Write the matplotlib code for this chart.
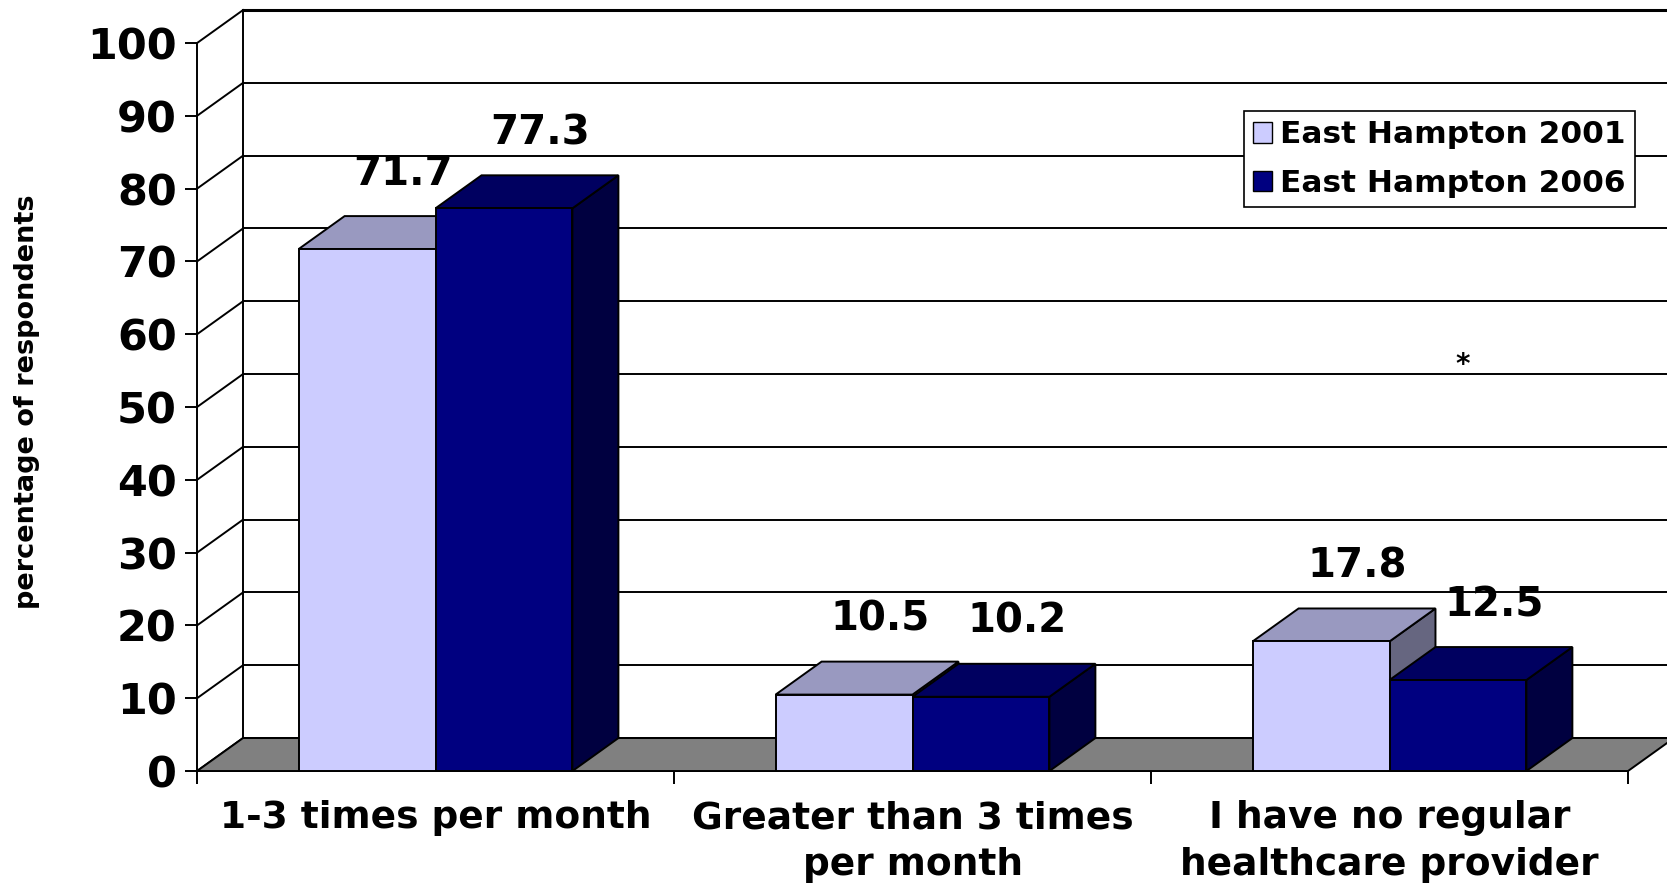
import matplotlib.pyplot as plt
from matplotlib.patches import Polygon, Rectangle, Patch

# survey answers, per category and year
categories = ["1-3 times per month", "Greater than 3 times\nper month",
              "I have no regular\nhealthcare provider"]
series_names = ["East Hampton 2001", "East Hampton 2006"]
values_2001 = [71.7, 10.5, 17.8]
values_2006 = [77.3, 10.2, 12.5]
y_ticks = list(range(0, 101, 10))

# face colours: front, top, side
colors = [
    ("#CCCCFF", "#9999C0", "#666680"),
    ("#000080", "#000060", "#000040"),
]

DEPTH_X = 0.0964      # depth offset along the category axis
DEPTH_Y = 4.53        # depth offset along the value axis
BAR_W = 0.287
LW = 1.4

plt.rcParams["font.family"] = ["DejaVu Sans"]
plt.rcParams["font.weight"] = "bold"

fig = plt.figure(figsize=(16.67, 8.84), dpi=100)
ax = fig.add_axes([0.1182, 0.1278, 0.8584, 0.8235])
ax.set_xlim(0, 3)
ax.set_ylim(0, 100)
for s in ["top", "right", "bottom"]:
    ax.spines[s].set_visible(False)
ax.spines["left"].set_linewidth(LW)

n = len(categories)
right = n + DEPTH_X

# back wall grid and side wall diagonals
for v in y_ticks:
    lw = 2.2 if v == 100 else LW
    ax.plot([DEPTH_X, right + 1], [v + DEPTH_Y] * 2, color="black", lw=lw,
            clip_on=False, zorder=1)
    ax.plot([0, DEPTH_X], [v, v + DEPTH_Y], color="black", lw=LW,
            clip_on=False, zorder=1)
ax.plot([DEPTH_X, DEPTH_X], [DEPTH_Y, 100 + DEPTH_Y], color="black", lw=LW,
        clip_on=False, zorder=1)

# floor
floor = Polygon([(0, 0), (DEPTH_X, DEPTH_Y), (right, DEPTH_Y), (n, 0)],
                closed=True, facecolor="#808080", edgecolor="black", lw=LW,
                clip_on=False, zorder=2)
ax.add_patch(floor)


def draw_bar(x0, h, cols, z):
    x1 = x0 + BAR_W
    front = Rectangle((x0, 0), BAR_W, h, facecolor=cols[0], edgecolor="black",
                      lw=LW, clip_on=False, zorder=z)
    top = Polygon([(x0, h), (x0 + DEPTH_X, h + DEPTH_Y),
                   (x1 + DEPTH_X, h + DEPTH_Y), (x1, h)], closed=True,
                  facecolor=cols[1], edgecolor="black", lw=LW,
                  clip_on=False, zorder=z)
    side = Polygon([(x1, 0), (x1 + DEPTH_X, DEPTH_Y),
                    (x1 + DEPTH_X, h + DEPTH_Y), (x1, h)], closed=True,
                   facecolor=cols[2], edgecolor="black", lw=LW,
                   clip_on=False, zorder=z)
    for p in (side, top, front):
        ax.add_patch(p)


z = 3
for i in range(n):
    center = i + 0.5
    for s, vals in enumerate([values_2001, values_2006]):
        x0 = center - BAR_W + s * BAR_W
        draw_bar(x0, vals[i], colors[s], z)
        z += 1
        ax.text(x0 + BAR_W / 2 + 0.075, vals[i] + 10.3, f"{vals[i]}",
                ha="center", va="center", fontsize=29, fontweight="bold",
                zorder=20)

ax.text(2.654, 55.8, "*", ha="center", va="center", fontsize=20,
        fontweight="bold", zorder=20)

# axes ticks
ax.set_yticks(y_ticks)
ax.tick_params(axis="y", direction="out", length=8.6, width=LW,
               labelsize=31, pad=6)
ax.set_xticks(range(n + 1))
ax.set_xticklabels([])
ax.set_xticks([i + 0.5 for i in range(n)], minor=True)
ax.set_xticklabels(categories, minor=True, fontsize=27, fontweight="bold",
                   linespacing=1.4)
ax.tick_params(axis="x", which="major", direction="out", length=9.4, width=LW)
ax.tick_params(axis="x", which="minor", length=0, pad=21)

fig.text(27 / 1667, 1 - 402 / 884, "percentage of respondents", rotation=90,
         ha="center", va="center", fontsize=19.5, fontweight="bold")

handles = [Patch(facecolor=c[0], edgecolor="black", lw=1) for c in colors]
leg = fig.legend(handles, series_names, loc="upper right",
                 bbox_to_anchor=(1635 / 1667, 1 - 111 / 884), borderaxespad=0,
                 prop={"weight": "bold", "size": 22.5},
                 handlelength=0.62, handleheight=0.62, handletextpad=0.25,
                 labelspacing=0.62, borderpad=0.3, fancybox=False,
                 framealpha=1, edgecolor="black")
leg.get_frame().set_linewidth(1.2)
leg.set_zorder(30)

fig.savefig("out.png", dpi=100)
